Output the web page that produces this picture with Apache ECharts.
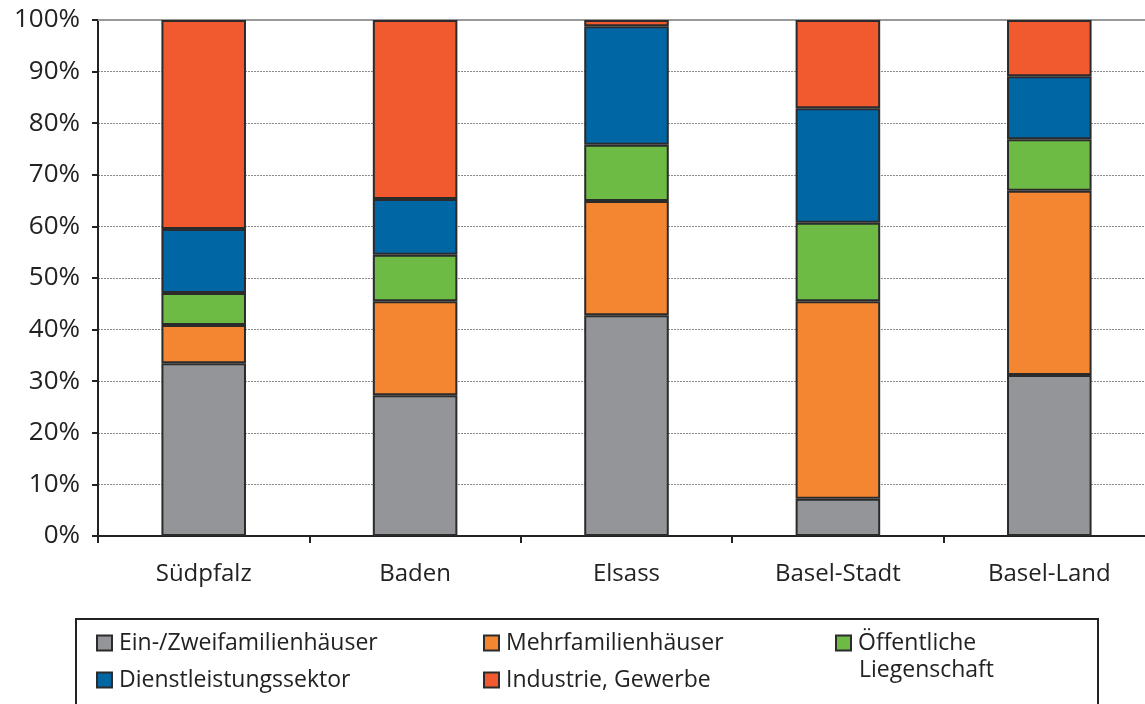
<!DOCTYPE html>
<html>
<head>
<meta charset="utf-8">
<script src="https://cdn.jsdelivr.net/npm/echarts@6/dist/echarts.min.js"></script>
<style>
  html, body { margin: 0; padding: 0; background: #fff; overflow: hidden; }
  #chart { width: 1155px; height: 704px; }
</style>
</head>
<body>
<div id="chart"></div>
<script>
const regions = ['Südpfalz', 'Baden', 'Elsass', 'Basel-Stadt', 'Basel-Land']
const seriesNames = [
  'Ein-/Zweifamilienhäuser',
  'Mehrfamilienhäuser',
  'Öffentliche Liegenschaft',
  'Dienstleistungssektor',
  'Industrie, Gewerbe'
]
const einZwei = [33.5, 27.3, 42.8, 7.2, 31.2]
const mehr = [7.4, 18.2, 22.1, 38.3, 35.7]
const oeffentlich = [6.2, 9.0, 10.9, 15.2, 10.0]
const dienst = [12.4, 10.8, 23.0, 22.2, 12.2]
const industrie = [40.5, 34.7, 1.2, 17.1, 10.9]
const colors = ['#939598', '#f58631', '#6dbb45', '#0066a4', '#f15a2f']

const values = [einZwei, mehr, oeffentlich, dienst, industrie]
const font = 'Open Sans'

// the original is cropped on the right, so the chart is a bit wider than the window
const chart = echarts.init(document.getElementById('chart'))

const series = seriesNames.map(function(name, i) {
  return {
    name: name,
    type: 'bar',
    stack: 'total',
    barWidth: '40%',
    data: values[i],
    itemStyle: { color: colors[i], borderColor: '#2b2b2b', borderWidth: 2 },
    emphasis: { disabled: true }
  }
})

const legendBase = {
  orient: 'vertical',
  icon: 'rect',
  itemWidth: 15,
  itemHeight: 15,
  itemGap: 13,
  padding: 0,
  selectedMode: false,
  textStyle: { fontFamily: font, fontSize: 23, lineHeight: 24, color: '#222', padding: [0, 0, 0, 2] }
}

chart.setOption({
  animation: false,
  grid: { left: 98, top: 20, right: 0, bottom: 168 },
  xAxis: [
    {
      type: 'category',
      data: regions,
      axisLine: { lineStyle: { color: '#222', width: 2 } },
      axisTick: { show: true, length: 7, lineStyle: { color: '#222', width: 2 } },
      axisLabel: { fontFamily: font, fontSize: 24, color: '#222', margin: 26 }
    },
    {
      type: 'category',
      position: 'top',
      data: regions,
      axisLine: { lineStyle: { color: '#999', width: 2 } },
      axisTick: { show: false },
      axisLabel: { show: false }
    }
  ],
  yAxis: {
    type: 'value',
    min: 0,
    max: 100,
    interval: 10,
    axisLine: { show: true, lineStyle: { color: '#222', width: 2 } },
    axisTick: { show: true, length: 6, lineStyle: { color: '#222', width: 2 } },
    axisLabel: { fontFamily: font, fontSize: 26, color: '#222', margin: 18, formatter: '{value}%' },
    splitLine: { lineStyle: { color: '#8a8a8a', width: 1, type: [2, 1] } }
  },
  legend: [
    Object.assign({}, legendBase, { left: 96, top: 631, data: [seriesNames[0], seriesNames[3]] }),
    Object.assign({}, legendBase, { left: 483, top: 631, data: [seriesNames[1], seriesNames[4]] }),
    Object.assign({}, legendBase, {
      left: 835, top: 631, data: [seriesNames[2]],
      formatter: function() { return 'Öffentliche' }
    })
  ],
  graphic: [
    {
      type: 'rect',
      shape: { x: 76, y: 619, width: 1022, height: 110 },
      style: { fill: 'none', stroke: '#222', lineWidth: 2 },
      silent: true
    },
    {
      type: 'text',
      left: 859,
      top: 658,
      style: { text: 'Liegenschaft', fontFamily: font, fontSize: 23, lineHeight: 24, fill: '#222' },
      silent: true
    }
  ],
  series: series
})
</script>
</body>
</html>
